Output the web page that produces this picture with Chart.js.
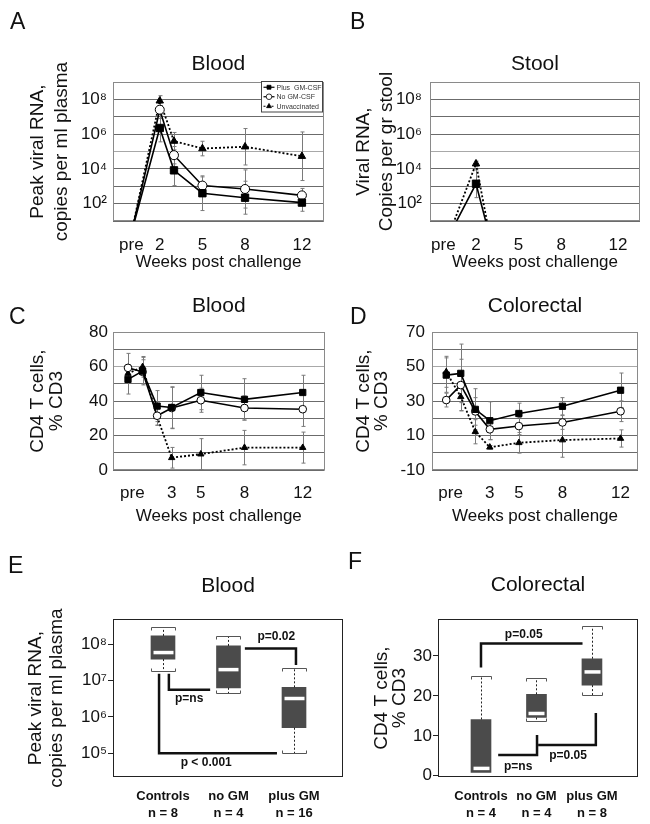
<!DOCTYPE html>
<html>
<head>
<meta charset="utf-8">
<title>Viral RNA and CD4 T cells after challenge</title>
<script src="https://cdn.jsdelivr.net/npm/chart.js@4.4.1/dist/chart.umd.min.js"></script>
<style>
  body { margin: 0; background: #fff; }
  #fig { position: relative; width: 650px; height: 824px; overflow: hidden; font-family: "Liberation Sans", Arial, sans-serif; }
  #fig canvas { position: absolute; }
  .tag { position: absolute; font-size: 23px; line-height: 23px; color: #111; }
</style>
</head>
<body>
<div id="fig">
  <canvas id="bloodVL" width="330" height="275" style="left:0;top:0"></canvas>
  <canvas id="stoolVL" width="320" height="275" style="left:330px;top:0"></canvas>
  <canvas id="bloodCD4" width="330" height="255" style="left:0;top:275px"></canvas>
  <canvas id="coloCD4" width="320" height="255" style="left:330px;top:275px"></canvas>
  <canvas id="bloodBox" width="345" height="284" style="left:0;top:540px"></canvas>
  <canvas id="coloBox" width="320" height="284" style="left:330px;top:540px"></canvas>
  <div class="tag" style="left:10px;top:10px">A</div>
  <div class="tag" style="left:350px;top:10px">B</div>
  <div class="tag" style="left:9px;top:305px">C</div>
  <div class="tag" style="left:350px;top:305px">D</div>
  <div class="tag" style="left:8px;top:554px">E</div>
  <div class="tag" style="left:348px;top:550px">F</div>
</div>
<script>
//////////////////
// data

// A - blood viral load (copies/ml), error bars in decades
var weeksA = [0, 2, 3, 5, 8, 12];
var plusA = [2, 2.3e6, 8.3e3, 400, 220, 115];
var noA = [2, 2.6e7, 6.2e4, 1.1e3, 700, 300];
var unvA = [2, 8.4e7, 4e5, 1.5e5, 1.9e5, 5.4e4];
var errPlusA = [0, 0.8, 0.88, 1.0, 0.95, 0.5];
var errNoA = [0, 0.5, 0.5, 0.5, 1.1, 0.4];
var errUnvA = [0, 0.3, 0.5, 0.42, 1.05, 1.4];

// B - stool viral load
var weeksB = [0, 2, 3];
var plusB = [1, 1.4e3, 1];
var unvB = [1, 2e4, 1];
var errPlusB = [0, 0.8, 0];
var errUnvB = [0, 0.15, 0];

// C - blood CD4 (% CD3)
var weeksCD = [0, 1, 2, 3, 5, 8, 12];
var plusC = [52.6, 57.4, 37.1, 36.3, 45, 41, 45];
var noC = [59.3, 57, 31.5, 36, 40.5, 36, 35.3];
var unvC = [56, 59.9, 31, 7.1, 9.2, 13, 13];
var errPlusC = [8.5, 8, 9, 12, 10, 12, 10];
var errNoC = [8.4, 7, 5.5, 12, 7, 7, 10];
var errUnvC = [5, 6, 5, 6, 9, 10, 9];

// D - colorectal CD4 (% CD3)
var plusD = [45.1, 46.1, 25.2, 18.6, 22.8, 27, 36.3];
var noD = [30.6, 39.3, 24, 13.6, 15.5, 17.6, 24.1];
var unvD = [47, 32.5, 12.2, 3.2, 5.8, 7.4, 8.3];
var errPlusD = [10, 17, 12, 11, 6, 5, 10];
var errNoD = [4, 15, 8, 6, 5, 4, 6];
var errUnvD = [9, 8, 7, 1, 6, 10, 5];

// tick labels
var xTicksA = [0, 2, 5, 8, 12];
var xTicksB = [-0.3, 2, 5, 8, 12];
var xLabelsAB = ['pre', '2', '5', '8', '12'];
var xTicksCD = [0.3, 3, 5, 8, 12];
var xLabelsCD = ['pre', '3', '5', '8', '12'];
var yTicksAB = [1e1, 1e2, 1e3, 1e4, 1e5, 1e6, 1e7, 1e8, 1e9];
var yLabelsAB = ['', '10²', '', '10⁴', '', '10⁶', '', '10⁸', ''];
var yTicksC = [0, 10, 20, 30, 40, 50, 60, 70, 80];
var yLabelsC = ['0', '', '20', '', '40', '', '60', '', '80'];
var yTicksD = [-10, 0, 10, 20, 30, 40, 50, 60, 70];
var yLabelsD = ['-10', '', '10', '', '30', '', '50', '', '70'];

// E / F - box plots
var groups = ['Controls', 'no GM', 'plus GM'];
var nE = [8, 4, 16];
var minE = [1.85e7, 4.5e6, 1e5];
var q1E = [3.9e7, 6.3e6, 5e5];
var medE = [5.9e7, 2e7, 3.2e6];
var q3E = [1.7e8, 9e7, 6.5e6];
var maxE = [3.0e8, 1.7e8, 2.2e7];
var yTicksE = [1e5, 1e6, 1e7, 1e8];
var yLabelsE = ['10⁵', '10⁶', '10⁷', '10⁸'];

var nF = [4, 4, 8];
var minF = [0.85, 13.7, 20.2];
var q1F = [0.85, 14.6, 22.7];
var medF = [1.85, 15.6, 26];
var q3F = [14.1, 20.4, 29.3];
var maxF = [25, 24.6, 37.5];
var yTicksF = [0, 10, 20, 30];

// significance brackets (group index, value)
var bracketsE = [
  { path: [[1.25, 7.6e7], [2.03, 7.6e7], [2.03, 2.7e7]], text: 'p=0.02', at: [1.73, 1.6e8] },
  { path: [[0.09, 1.55e7], [0.09, 5.6e6], [0.72, 5.6e6]], text: 'p=ns', at: [0.4, 3.2e6] },
  { path: [[-0.06, 1.55e7], [-0.06, 1e5], [1.74, 1e5]], text: 'p < 0.001', at: [0.66, 5.6e4] }
];
var bracketsF = [
  { path: [[0, 27.1], [0, 33.1], [1.83, 33.1]], text: 'p=0.05', at: [0.77, 35.4] },
  { path: [[0.31, 5.2], [1.01, 5.2], [1.01, 10.2]], text: 'p=ns', at: [0.67, 2.25] },
  { path: [[1.03, 7.7], [2.07, 7.7], [2.07, 15.75]], text: 'p=0.05', at: [1.57, 5.0] }
];

//////////////////
// defaults + plugins

var FONT = "'Liberation Sans', Arial, Helvetica, sans-serif";
Chart.defaults.font.family = FONT;
Chart.defaults.color = '#111';
Chart.defaults.animation = false;
Chart.defaults.responsive = false;
Chart.defaults.plugins.legend.display = false;
Chart.defaults.plugins.tooltip.enabled = false;

// box round the plot area
var framePlugin = {
  id: 'frame',
  beforeDatasetsDraw: function(chart, args, opts) {
    var a = chart.chartArea, ctx = chart.ctx;
    ctx.save();
    ctx.strokeStyle = opts.color || '#888';
    ctx.lineWidth = 1;
    ctx.strokeRect(Math.round(a.left) + 0.5, Math.round(a.top) + 0.5,
      Math.round(a.right - a.left) - 1, Math.round(a.bottom - a.top) - 1);
    ctx.restore();
  }
};

// vertical error bars from dataset.errors
var errorBarPlugin = {
  id: 'errbars',
  beforeDatasetsDraw: function(chart, args, opts) {
    var ctx = chart.ctx, ys = chart.scales.y, a = chart.chartArea;
    ctx.save();
    ctx.beginPath();
    ctx.rect(a.left, a.top, a.right - a.left, a.bottom - a.top);
    ctx.clip();
    ctx.strokeStyle = opts.color || '#777';
    ctx.lineWidth = 1;
    chart.data.datasets.forEach(function(ds, i) {
      if (!ds.errors) return;
      var meta = chart.getDatasetMeta(i);
      ds.errors.forEach(function(e, j) {
        if (!e) return;
        var v = ds.data[j].y;
        var lo = opts.log ? v / Math.pow(10, e) : v - e;
        var hi = opts.log ? v * Math.pow(10, e) : v + e;
        var px = Math.round(meta.data[j].x) + 0.5;
        var y1 = ys.getPixelForValue(lo), y2 = ys.getPixelForValue(hi);
        ctx.beginPath();
        ctx.moveTo(px, y1); ctx.lineTo(px, y2);
        ctx.moveTo(px - 2, y1); ctx.lineTo(px + 2, y1);
        ctx.moveTo(px - 2, y2); ctx.lineTo(px + 2, y2);
        ctx.stroke();
      });
    });
    ctx.restore();
  }
};

// small boxed legend in the top right corner of the plot
var boxLegendPlugin = {
  id: 'boxLegend',
  afterDatasetsDraw: function(chart, args, opts) {
    var a = chart.chartArea, ctx = chart.ctx;
    var ds = chart.data.datasets;
    var w = opts.width, rh = opts.rowHeight;
    var x0 = Math.round(a.right - w - opts.inset) + 0.5, y0 = Math.round(a.top - 1) + 0.5;
    var h = rh * ds.length + 2;
    ctx.save();
    ctx.fillStyle = '#fff';
    ctx.fillRect(x0, y0, w, h);
    ctx.strokeStyle = '#444';
    ctx.lineWidth = 1;
    ctx.strokeRect(x0, y0, w, h);
    ctx.font = opts.fontSize + 'px ' + FONT;
    ctx.textBaseline = 'middle';
    ds.forEach(function(d, i) {
      var yy = y0 + 1 + rh * (i + 0.5);
      ctx.strokeStyle = '#000';
      ctx.lineWidth = 1.2;
      ctx.setLineDash(d.borderDash || []);
      ctx.beginPath(); ctx.moveTo(x0 + 2, yy); ctx.lineTo(x0 + 13, yy); ctx.stroke();
      ctx.setLineDash([]);
      ctx.fillStyle = d.pointBackgroundColor;
      ctx.lineWidth = 0.8;
      Chart.helpers.drawPoint(ctx, { pointStyle: d.pointStyle, radius: 2.8, borderWidth: 0.8, rotation: 0 }, x0 + 7.5, yy);
      ctx.fillStyle = '#333';
      ctx.fillText(d.label, x0 + 15, yy + 0.5);
    });
    ctx.restore();
  }
};

// whiskers, caps and medians on top of floating bars
var boxPlotPlugin = {
  id: 'boxplot',
  afterDatasetsDraw: function(chart, args, opts) {
    var ctx = chart.ctx, xs = chart.scales.x, ys = chart.scales.y;
    var hw = opts.boxWidth / 2;
    ctx.save();
    opts.med.forEach(function(m, i) {
      var x = Math.round(xs.getPixelForValue(i)) + 0.5;
      var yMin = Math.round(ys.getPixelForValue(opts.min[i])) + 0.5;
      var yQ1 = ys.getPixelForValue(opts.q1[i]);
      var yMed = ys.getPixelForValue(m);
      var yQ3 = ys.getPixelForValue(opts.q3[i]);
      var yMax = Math.round(ys.getPixelForValue(opts.max[i])) + 0.5;
      var hasLow = opts.min[i] < opts.q1[i];
      ctx.strokeStyle = '#222';
      ctx.lineWidth = 1;
      ctx.setLineDash([2, 2]);
      ctx.beginPath();
      ctx.moveTo(x, yQ3); ctx.lineTo(x, yMax);
      if (hasLow) { ctx.moveTo(x, yQ1); ctx.lineTo(x, yMin); }
      ctx.stroke();
      ctx.setLineDash([]);
      ctx.strokeStyle = '#555';
      ctx.beginPath();
      ctx.moveTo(x - hw, yMax + 3); ctx.lineTo(x - hw, yMax); ctx.lineTo(x + hw, yMax); ctx.lineTo(x + hw, yMax + 3);
      if (hasLow) {
        ctx.moveTo(x - hw, yMin - 3); ctx.lineTo(x - hw, yMin); ctx.lineTo(x + hw, yMin); ctx.lineTo(x + hw, yMin - 3);
      }
      ctx.stroke();
      ctx.strokeStyle = '#fff';
      ctx.lineWidth = 3.5;
      ctx.beginPath();
      ctx.moveTo(x - hw + 2, yMed); ctx.lineTo(x + hw - 2, yMed);
      ctx.stroke();
    });
    ctx.restore();
  }
};

// p-value brackets
var bracketPlugin = {
  id: 'brackets',
  afterDatasetsDraw: function(chart, args, opts) {
    var ctx = chart.ctx, xs = chart.scales.x, ys = chart.scales.y;
    ctx.save();
    ctx.strokeStyle = '#111';
    ctx.lineWidth = 2.5;
    ctx.lineJoin = 'miter';
    ctx.fillStyle = '#111';
    ctx.font = 'bold 12px ' + FONT;
    ctx.textAlign = 'center';
    ctx.textBaseline = 'middle';
    opts.items.forEach(function(b) {
      ctx.beginPath();
      b.path.forEach(function(p, k) {
        var px = xs.getPixelForValue(p[0]), py = ys.getPixelForValue(p[1]);
        if (k) ctx.lineTo(px, py); else ctx.moveTo(px, py);
      });
      ctx.stroke();
      ctx.fillText(b.text, xs.getPixelForValue(b.at[0]), ys.getPixelForValue(b.at[1]));
    });
    ctx.restore();
  }
};

//////////////////
// line charts (A-D)

var STYLE = {
  plus: { borderColor: '#000', borderWidth: 1.6, pointStyle: 'rect', pointRadius: 5.2,
          pointBackgroundColor: '#000', pointBorderColor: '#000', pointBorderWidth: 1 },
  no:   { borderColor: '#000', borderWidth: 1.6, pointStyle: 'circle', pointRadius: 4.5,
          pointBackgroundColor: '#fff', pointBorderColor: '#000', pointBorderWidth: 1 },
  unv:  { borderColor: '#000', borderWidth: 1.8, borderDash: [2, 2], pointStyle: 'triangle', pointRadius: 4.3,
          pointBackgroundColor: '#000', pointBorderColor: '#000', pointBorderWidth: 1 }
};

function series(label, weeks, vals, errs, style, small) {
  var ds = Object.assign({ label: label, tension: 0, fill: false, errors: errs }, STYLE[style]);
  ds.data = weeks.map(function(w, i) { return { x: w, y: vals[i] }; });
  if (small) ds.pointRadius = ds.pointRadius * 0.85;
  return ds;
}

function gridColor(light) {
  return function(c) { return c.tick && c.tick.value === light ? '#a8a8a8' : '#6b6b6b'; };
}

function lineChart(id, o) {
  var plugins = [framePlugin, errorBarPlugin];
  if (o.legend) plugins.push(boxLegendPlugin);
  return new Chart(document.getElementById(id), {
    type: 'line',
    data: { datasets: o.datasets },
    options: {
      layout: { padding: { right: o.padRight } },
      plugins: {
        title: { display: true, text: o.title, fullSize: false, color: '#111',
                 font: { size: 21, weight: 'normal', lineHeight: 1.2 },
                 padding: { top: o.titleTop, bottom: o.titleBottom } },
        errbars: { log: o.log, color: '#7a7a7a' },
        frame: { color: '#8a8a8a' },
        boxLegend: o.legend || {}
      },
      scales: {
        x: {
          type: 'linear', min: o.xMin, max: o.xMax,
          afterBuildTicks: function(s) { s.ticks = o.xTicks.map(function(v) { return { value: v }; }); },
          ticks: { callback: function(v) { return o.xLabels[o.xTicks.indexOf(v)]; },
                   font: { size: 17 }, padding: o.xTickPad, maxRotation: 0, autoSkip: false },
          grid: { display: false },
          border: { display: false },
          title: { display: true, text: 'Weeks post challenge', font: { size: 17, lineHeight: 1.2 },
                   padding: { top: 0, bottom: o.xTitlePad } },
          afterFit: function(s) { s.height = o.xHeight; }
        },
        y: {
          type: o.log ? 'logarithmic' : 'linear', min: o.yMin, max: o.yMax,
          afterBuildTicks: function(s) { s.ticks = o.yTicks.map(function(v) { return { value: v }; }); },
          ticks: { callback: function(v) { return o.yLabels[o.yTicks.indexOf(v)]; },
                   font: { size: 17 }, padding: o.yTickPad, autoSkip: false },
          grid: { color: gridColor(o.lightLine), drawTicks: false },
          border: { display: false },
          title: { display: true, text: o.yTitle, font: { size: 19, lineHeight: o.yTitleLH },
                   padding: { top: o.yTitlePad, bottom: 0 } },
          afterFit: function(s) { s.width = o.yWidth; }
        }
      }
    },
    plugins: plugins
  });
}

lineChart('bloodVL', {
  title: 'Blood', titleTop: 52, titleBottom: 5, padRight: 5, log: true,
  datasets: [
    series('Plus  GM-CSF', weeksA, plusA, errPlusA, 'plus'),
    series('No GM-CSF', weeksA, noA, errNoA, 'no'),
    series('Unvaccinated', weeksA, unvA, errUnvA, 'unv')
  ],
  legend: { width: 61, rowHeight: 9.5, inset: 2, fontSize: 7 },
  xMin: -1.29, xMax: 13.54, xTicks: xTicksA, xLabels: xLabelsAB, xTickPad: 6, xTitlePad: 2, xHeight: 54,
  yMin: 10, yMax: 1e9, yTicks: yTicksAB, yLabels: yLabelsAB, yTickPad: 6, lightLine: 1e5,
  yTitle: ['Peak viral RNA,', 'copies per ml plasma'], yTitleLH: 1.26, yTitlePad: 26, yWidth: 113
});

lineChart('stoolVL', {
  title: 'Stool', titleTop: 52, titleBottom: 5, padRight: 10, log: true,
  datasets: [
    series('Plus  GM-CSF', weeksB, plusB, errPlusB, 'plus'),
    series('Unvaccinated', weeksB, unvB, errUnvB, 'unv')
  ],
  xMin: -1.24, xMax: 13.55, xTicks: xTicksB, xLabels: xLabelsAB, xTickPad: 6, xTitlePad: 2, xHeight: 54,
  yMin: 10, yMax: 1e9, yTicks: yTicksAB, yLabels: yLabelsAB, yTickPad: 8, lightLine: 1e5,
  yTitle: ['Viral RNA,', 'Copies per gr stool'], yTitleLH: 1.21, yTitlePad: 22, yWidth: 100
});

lineChart('bloodCD4', {
  title: 'Blood', titleTop: 19, titleBottom: 13, padRight: 5, log: false,
  datasets: [
    series('Plus  GM-CSF', weeksCD, plusC, errPlusC, 'plus', true),
    series('No GM-CSF', weeksCD, noC, errNoC, 'no', true),
    series('Unvaccinated', weeksCD, unvC, errUnvC, 'unv', true)
  ],
  xMin: -1.03, xMax: 13.5, xTicks: xTicksCD, xLabels: xLabelsCD, xTickPad: 5, xTitlePad: 3, xHeight: 60,
  yMin: 0, yMax: 80, yTicks: yTicksC, yLabels: yLabelsC, yTickPad: 5, lightLine: 60,
  yTitle: ['CD4 T cells,', '% CD3'], yTitleLH: 1.0, yTitlePad: 28, yWidth: 113
});

lineChart('coloCD4', {
  title: 'Colorectal', titleTop: 19, titleBottom: 13, padRight: 12, log: false,
  datasets: [
    series('Plus  GM-CSF', weeksCD, plusD, errPlusD, 'plus', true),
    series('No GM-CSF', weeksCD, noD, errNoD, 'no', true),
    series('Unvaccinated', weeksCD, unvD, errUnvD, 'unv', true)
  ],
  xMin: -0.98, xMax: 13.2, xTicks: xTicksCD, xLabels: xLabelsCD, xTickPad: 5, xTitlePad: 3, xHeight: 60,
  yMin: -10, yMax: 70, yTicks: yTicksD, yLabels: yLabelsD, yTickPad: 7, lightLine: 50,
  yTitle: ['CD4 T cells,', '% CD3'], yTitleLH: 0.95, yTitlePad: 25, yWidth: 102
});

//////////////////
// box plots (E-F)

function boxChart(id, o) {
  return new Chart(document.getElementById(id), {
    type: 'bar',
    data: {
      datasets: [{
        data: groups.map(function(g, i) { return { x: i, y: [o.q1[i], o.q3[i]] }; }),
        backgroundColor: '#4b4b4b', borderWidth: 0, barThickness: o.boxWidth
      }]
    },
    options: {
      layout: { padding: { right: o.padRight } },
      plugins: {
        title: { display: true, text: o.title, fullSize: false, color: '#111',
                 font: { size: 21, weight: 'normal', lineHeight: 1.2 },
                 padding: { top: o.titleTop, bottom: o.titleBottom } },
        frame: { color: '#222' },
        boxplot: { min: o.min, q1: o.q1, med: o.med, q3: o.q3, max: o.max, boxWidth: o.boxWidth },
        brackets: { items: o.brackets }
      },
      scales: {
        x: {
          type: 'linear', min: o.xMin, max: o.xMax, offset: false,
          afterBuildTicks: function(s) { s.ticks = groups.map(function(g, i) { return { value: i }; }); },
          ticks: { callback: function(v) { return [groups[v], 'n = ' + o.n[v]]; },
                   font: { size: 13, weight: 'bold', lineHeight: 1.3 }, padding: 3, maxRotation: 0, autoSkip: false },
          grid: { display: false },
          border: { display: false },
          afterFit: function(s) { s.height = 47; }
        },
        y: {
          type: o.log ? 'logarithmic' : 'linear', min: o.yMin, max: o.yMax,
          afterBuildTicks: function(s) { s.ticks = o.yTicks.map(function(v) { return { value: v }; }); },
          ticks: { callback: function(v) { return o.yLabels ? o.yLabels[o.yTicks.indexOf(v)] : String(v); },
                   font: { size: 17 }, padding: 1, autoSkip: false },
          grid: { drawOnChartArea: false, drawTicks: true, tickLength: 5, color: '#222' },
          border: { display: false },
          title: { display: true, text: o.yTitle, font: { size: 19, lineHeight: o.yTitleLH },
                   padding: { top: o.yTitlePad, bottom: 0 } },
          afterFit: function(s) { s.width = o.yWidth; }
        }
      }
    },
    plugins: [framePlugin, boxPlotPlugin, bracketPlugin]
  });
}

boxChart('bloodBox', {
  title: 'Blood', titleTop: 34, titleBottom: 20, padRight: 2, log: true,
  min: minE, q1: q1E, med: medE, q3: q3E, max: maxE, n: nE, boxWidth: 24, brackets: bracketsE,
  xMin: -0.763, xMax: 2.748,
  yMin: 2.2e4, yMax: 4.9e8, yTicks: yTicksE, yLabels: yLabelsE,
  yTitle: ['Peak viral RNA,', 'copies per ml plasma'], yTitleLH: 1.1, yTitlePad: 25, yWidth: 113
});

boxChart('coloBox', {
  title: 'Colorectal', titleTop: 33, titleBottom: 21, padRight: 12, log: false,
  min: minF, q1: q1F, med: medF, q3: q3F, max: maxF, n: nF, boxWidth: 20, brackets: bracketsF,
  xMin: -0.775, xMax: 2.83,
  yMin: -0.3, yMax: 39.2, yTicks: yTicksF,
  yTitle: ['CD4 T cells,', '% CD3'], yTitleLH: 0.95, yTitlePad: 43, yWidth: 108
});
</script>
</body>
</html>
